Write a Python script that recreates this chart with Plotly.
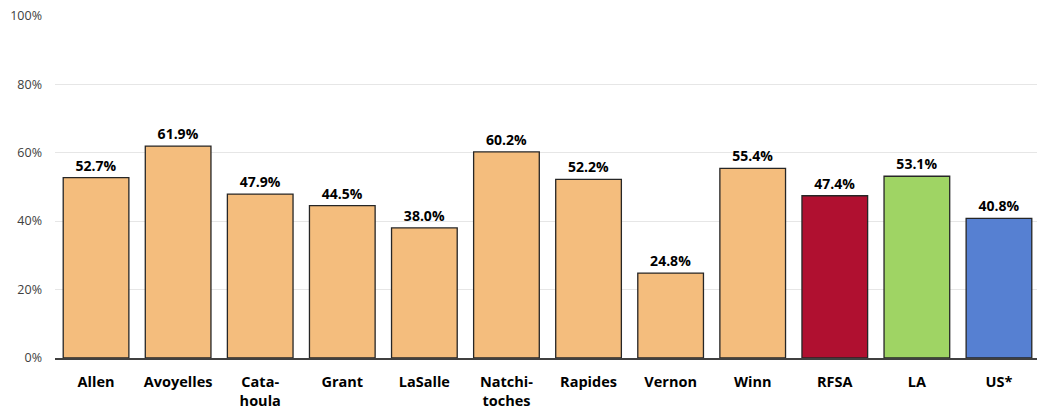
import plotly.graph_objects as go

categories = ["Allen", "Avoyelles", "Cata-<br>houla", "Grant", "LaSalle", "Natchi-<br>toches",
              "Rapides", "Vernon", "Winn", "RFSA", "LA", "US*"]
values = [52.7, 61.9, 47.9, 44.5, 38.0, 60.2, 52.2, 24.8, 55.4, 47.4, 53.1, 40.8]
colors = ["#F4BD7D"] * 9 + ["#B01030", "#9FD464", "#5680D2"]
y_ticks = [0, 20, 40, 60, 80, 100]
y_tick_labels = ["0%", "20%", "40%", "60%", "80%", "100%"]

fig = go.Figure(go.Bar(
    x=categories, y=values,
    marker=dict(color=colors, line=dict(color="#262626", width=1.3)),
    text=[f"{v:.1f}%" for v in values], textposition="outside",
    textfont=dict(family="Open Sans", size=14, color="#000000", weight="bold"),
    cliponaxis=False,
))
fig.update_layout(
    width=1037, height=406,
    margin=dict(l=47, r=5, t=7, b=56, autoexpand=False),
    plot_bgcolor="white", paper_bgcolor="white",
    bargap=0.2, showlegend=False,
    font=dict(family="Open Sans"),
)
fig.update_xaxes(
    tickfont=dict(family="Open Sans", size=14.5, color="#000000", weight="bold"),
    showline=True, linecolor="#404040", linewidth=1.5, ticks="",
    ticklabelstandoff=10, automargin=False,
)
fig.update_yaxes(
    range=[0, 100.2], tickvals=y_ticks, ticktext=y_tick_labels,
    tickfont=dict(family="Open Sans", size=12.5, color="#404040"),
    showgrid=True, gridcolor="#E6E6E6", gridwidth=1, zeroline=False,
    ticks="", ticklen=0, ticklabelstandoff=12, ticklabeloverflow="allow",
    automargin=False,
)
fig.write_html("out.html")
